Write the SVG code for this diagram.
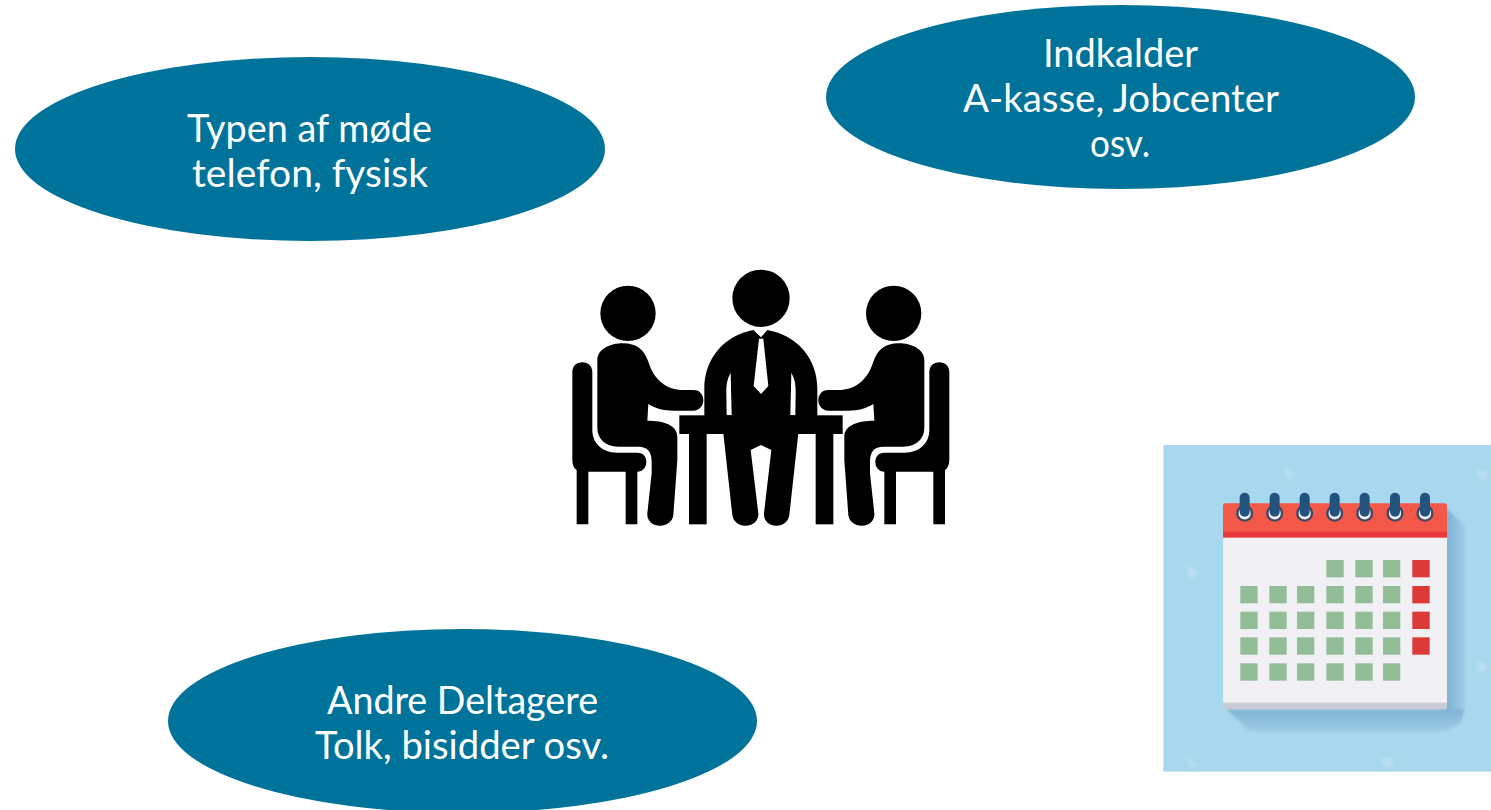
<svg xmlns="http://www.w3.org/2000/svg" width="1491" height="810" viewBox="0 0 1491 810">
<defs>
<style>
.bubble{fill:#00739b}
.label{font-family:"Lato","Noto Sans",sans-serif;font-size:38px;fill:#fff;text-anchor:middle}
.ink{fill:#000}
.gap{fill:#fff}
.sq{fill:#93bd96}
.red{fill:#dc3a36}
.ring{fill:#f0f0f5;stroke:#3c4a63;stroke-width:7}
.coil{fill:#24527e}
.wm{fill:#fff;opacity:.18}
</style>
<filter id="softer" x="-10%" y="-10%" width="120%" height="120%"><feGaussianBlur stdDeviation="5"/></filter>
<filter id="edge" x="-2%" y="-2%" width="104%" height="104%"><feGaussianBlur stdDeviation="1.5"/></filter>
<linearGradient id="shade-right" gradientUnits="userSpaceOnUse" x1="861" y1="0" x2="920" y2="0"><stop offset="0" stop-color="#7fb2d2"/><stop offset="1" stop-color="#a0d0e8"/></linearGradient>
<linearGradient id="shade-bottom" gradientUnits="userSpaceOnUse" x1="0" y1="808" x2="0" y2="880"><stop offset="0" stop-color="#7fb2d2"/><stop offset="1" stop-color="#a0d0e8"/></linearGradient>
<g id="person">
<circle class="ink" cx="204" cy="160" r="83"/>
<path class="ink" d="M112 300C112 268 150 250 190 250C228 250 252 268 265 305C282 360 320 390 370 390H400C420 390 430 405 430 420C430 438 418 452 400 452H340C310 452 285 445 265 432L262 482C310 482 352 495 352 530V600L340 765C338 785 320 797 300 797C278 797 260 782 262 760L275 640V605C275 575 262 560 235 560H175C135 560 112 535 112 505Z"/>
<path class="ink" d="M37 337C37 318 50 307 67 307C84 307 97 318 97 337V510C97 552 130 578 170 578H232C250 578 259 590 259 606C259 622 248 635 232 635V793H197V635H85V793H50V630C42 625 37 615 37 600Z"/>
</g>
</defs>
<g id="node-typen">
<ellipse class="bubble" cx="310" cy="149" rx="295" ry="92"/>
<text class="label" x="309.500" y="142" textLength="245" lengthAdjust="spacingAndGlyphs">Typen af møde</text>
<text class="label" x="310" y="187" textLength="236" lengthAdjust="spacingAndGlyphs">telefon, fysisk</text>
</g>
<g id="node-indkalder">
<ellipse class="bubble" cx="1120.500" cy="97" rx="294.500" ry="92"/>
<text class="label" x="1120.500" y="67" textLength="155" lengthAdjust="spacingAndGlyphs">Indkalder</text>
<text class="label" x="1121" y="112" textLength="316" lengthAdjust="spacingAndGlyphs">A-kasse, Jobcenter</text>
<text class="label" x="1120" y="157" textLength="60" lengthAdjust="spacingAndGlyphs">osv.</text>
</g>
<g id="node-andre">
<ellipse class="bubble" cx="462.500" cy="721" rx="294.500" ry="92"/>
<text class="label" x="462.500" y="714" textLength="271" lengthAdjust="spacingAndGlyphs">Andre Deltagere</text>
<text class="label" x="462" y="759" textLength="294" lengthAdjust="spacingAndGlyphs">Tolk, bisidder osv.</text>
</g>
<g id="node-meeting" transform="translate(560 260) scale(.33333)">
<use href="#person"/>
<use href="#person" transform="translate(1205 0) scale(-1 1)"/>
<circle class="ink" cx="603" cy="115" r="86"/>
<path class="ink" d="M433 470V385C433 295 495 225 580 210L603 232L622 210C710 225 772 295 772 385V470Z"/>
<path class="gap" d="M597 236H610L625 378L603 402L581 378Z"/>
<path class="gap" d="M512 338C502 355 498 375 499 400L500 466H515Z"/>
<path class="gap" d="M694 338C704 355 708 375 707 400L706 466H691Z"/>
<rect class="ink" x="358" y="466" width="490" height="56"/>
<rect class="ink" x="387" y="520" width="53" height="273"/>
<rect class="ink" x="767" y="520" width="53" height="273"/>
<path class="ink" d="M490 520L517 765C520 785 535 797 556 797C578 797 597 782 595 760L572 570L603 555L634 570L612 760C610 782 628 797 650 797C670 797 685 785 688 765L715 520Z"/>
</g>
<g id="node-calendar" transform="translate(1160 440) scale(.33333)">
<rect x="10" y="15" width="983" height="980" fill="#a8d8ee"/>
<g filter="url(#softer)">
<path d="M855 200L915 258V808H855Z" fill="url(#shade-right)"/>
<path d="M200 808H915L900 850L860 875H270Z" fill="url(#shade-bottom)"/>
</g>
<g class="wm" filter="url(#softer)">
<path d="M368 90L385 85L405 100L385 122Z"/>
<path d="M80 375L115 395L92 425Z"/>
<path d="M945 92L990 92L965 122Z"/>
<circle cx="965" cy="680" r="16"/>
<path d="M78 950L115 975L92 990Z"/>
<path d="M660 960L685 950L705 975L680 985Z"/>
</g>
<g filter="url(#edge)">
<rect x="189" y="190" width="672" height="618" rx="8" fill="#c9ccd4"/>
<rect x="189" y="290" width="672" height="498" fill="#f0f0f5"/>
<path d="M189 290V198Q189 190 197 190H853Q861 190 861 198V290Z" fill="#f4584a"/>
<rect x="189" y="275" width="672" height="18" fill="#e8393a"/>
<g id="rings">
<circle class="ring" cx="254" cy="220" r="22"/><rect class="coil" x="239" y="158" width="30" height="72" rx="15"/>
<circle class="ring" cx="344" cy="220" r="22"/><rect class="coil" x="329" y="158" width="30" height="72" rx="15"/>
<circle class="ring" cx="434" cy="220" r="22"/><rect class="coil" x="419" y="158" width="30" height="72" rx="15"/>
<circle class="ring" cx="524" cy="220" r="22"/><rect class="coil" x="509" y="158" width="30" height="72" rx="15"/>
<circle class="ring" cx="614" cy="220" r="22"/><rect class="coil" x="599" y="158" width="30" height="72" rx="15"/>
<circle class="ring" cx="705" cy="220" r="22"/><rect class="coil" x="690" y="158" width="30" height="72" rx="15"/>
<circle class="ring" cx="795" cy="220" r="22"/><rect class="coil" x="780" y="158" width="30" height="72" rx="15"/>
</g>
<g id="days">
<rect class="sq" x="499" y="360" width="52" height="52"/><rect class="sq" x="586" y="360" width="52" height="52"/><rect class="sq" x="669" y="360" width="52" height="52"/><rect class="red" x="757" y="360" width="52" height="52"/>
<rect class="sq" x="241" y="438" width="52" height="52"/><rect class="sq" x="328" y="438" width="52" height="52"/><rect class="sq" x="411" y="438" width="52" height="52"/><rect class="sq" x="499" y="438" width="52" height="52"/><rect class="sq" x="586" y="438" width="52" height="52"/><rect class="sq" x="669" y="438" width="52" height="52"/><rect class="red" x="757" y="438" width="52" height="52"/>
<rect class="sq" x="241" y="515" width="52" height="52"/><rect class="sq" x="328" y="515" width="52" height="52"/><rect class="sq" x="411" y="515" width="52" height="52"/><rect class="sq" x="499" y="515" width="52" height="52"/><rect class="sq" x="586" y="515" width="52" height="52"/><rect class="sq" x="669" y="515" width="52" height="52"/><rect class="red" x="757" y="515" width="52" height="52"/>
<rect class="sq" x="241" y="592" width="52" height="52"/><rect class="sq" x="328" y="592" width="52" height="52"/><rect class="sq" x="411" y="592" width="52" height="52"/><rect class="sq" x="499" y="592" width="52" height="52"/><rect class="sq" x="586" y="592" width="52" height="52"/><rect class="sq" x="669" y="592" width="52" height="52"/><rect class="red" x="757" y="592" width="52" height="52"/>
<rect class="sq" x="241" y="670" width="52" height="52"/><rect class="sq" x="328" y="670" width="52" height="52"/><rect class="sq" x="411" y="670" width="52" height="52"/><rect class="sq" x="499" y="670" width="52" height="52"/><rect class="sq" x="586" y="670" width="52" height="52"/><rect class="sq" x="669" y="670" width="52" height="52"/>
</g>
</g>
</g>
<g id="connectors"/>
</svg>
